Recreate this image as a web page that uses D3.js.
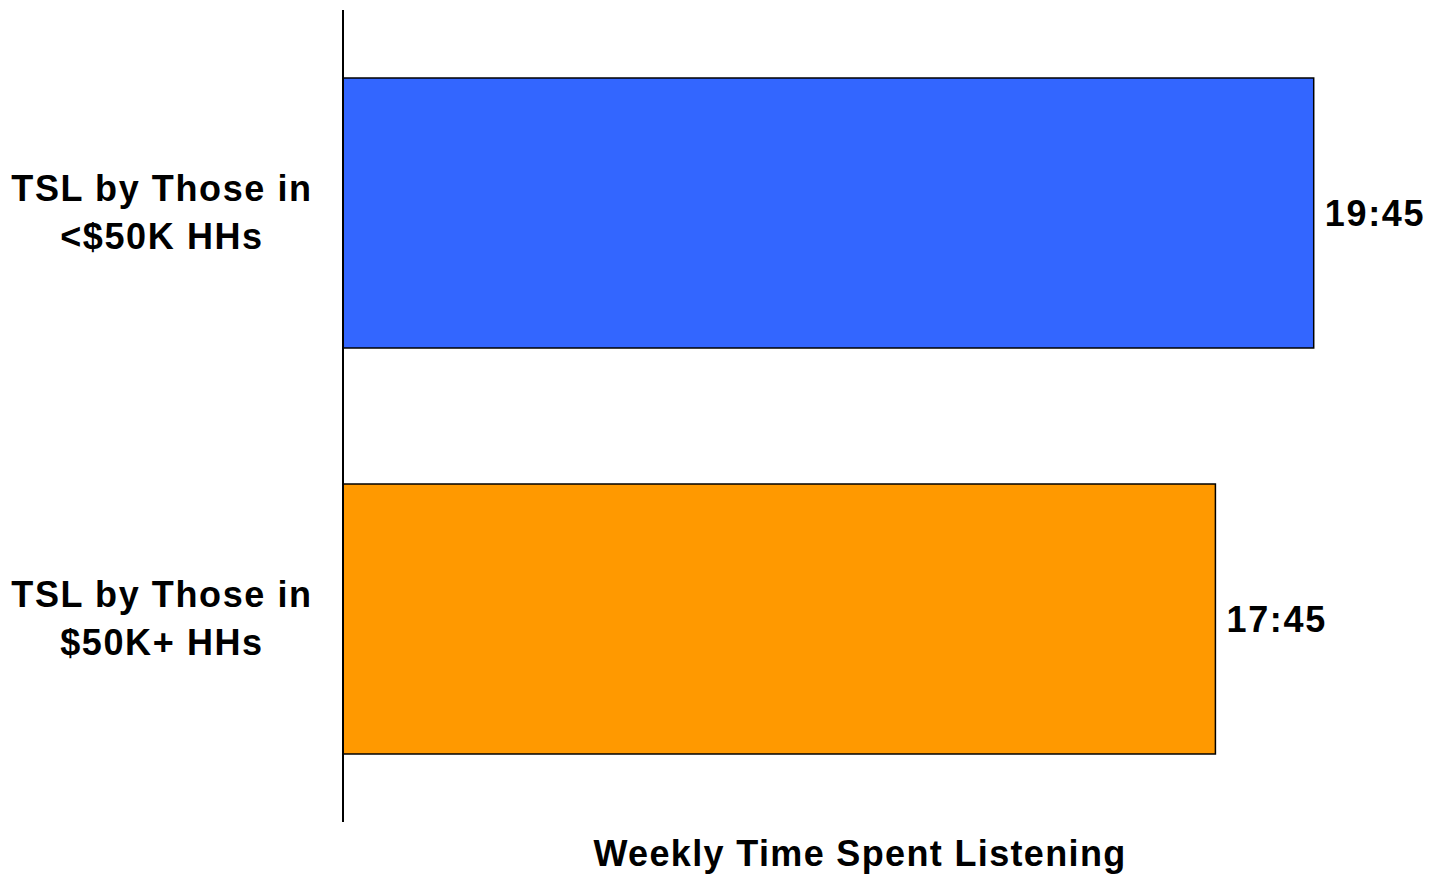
<!DOCTYPE html>
<html><head><meta charset="utf-8">
<script src="https://cdn.jsdelivr.net/npm/d3@7"></script>
<style>html,body{margin:0;padding:0;background:#fff;}svg{display:block;}</style>
</head><body>
<script>
const categories = [["TSL by Those in","<$50K HHs"],["TSL by Those in","$50K+ HHs"]];
const values = [19.75, 17.75];
const valueLabels = ["19:45","17:45"];
const colors = ["#3366FF","#FF9900"];
const axisTitle = "Weekly Time Spent Listening";

const W = 1431, H = 875;
const svg = d3.select("body").append("svg").attr("width", W).attr("height", H);
const font = "'Liberation Sans', Arial, sans-serif";

const x = d3.scaleLinear().domain([0, 20]).range([343, 1326]);
const y = d3.scaleBand().domain(d3.range(categories.length)).range([10, 822]).paddingInner(0.335).paddingOuter(0.1675);

svg.selectAll("rect.bar").data(values).join("rect")
  .attr("class","bar")
  .attr("x", x(0)).attr("y", (d,i)=>y(i))
  .attr("width", d=>x(d)-x(0)).attr("height", y.bandwidth())
  .attr("fill", (d,i)=>colors[i]).attr("stroke","#000").attr("stroke-width",1.5);

svg.append("line").attr("x1", x(0)).attr("x2", x(0)).attr("y1", 10).attr("y2", 822)
  .attr("stroke","#000").attr("stroke-width",2);

svg.selectAll("text.val").data(values).join("text")
  .attr("class","val")
  .attr("x", d=>x(d)+11).attr("y", (d,i)=>y(i)+y.bandwidth()/2)
  .attr("dy","0.35em")
  .attr("font-family", font).attr("font-weight","bold").attr("font-size", 36)
  .attr("letter-spacing", 1.7)
  .text((d,i)=>valueLabels[i]);

categories.forEach((lines,i)=>{
  const t = svg.append("text").attr("x",161).attr("text-anchor","middle")
    .attr("font-family", font).attr("font-weight","bold").attr("font-size", 36)
    .attr("letter-spacing", 1.6);
  const cy = y(i)+y.bandwidth()/2;
  lines.forEach((l,j)=>{
    t.append("tspan").attr("x",162).attr("y", cy - 12 + j*48).text(l);
  });
});

svg.append("text").attr("x", 860).attr("y", 866).attr("text-anchor","middle")
  .attr("font-family", font).attr("font-weight","bold").attr("font-size", 36)
  .attr("letter-spacing", 1.35)
  .text(axisTitle);
</script>
</body></html>
